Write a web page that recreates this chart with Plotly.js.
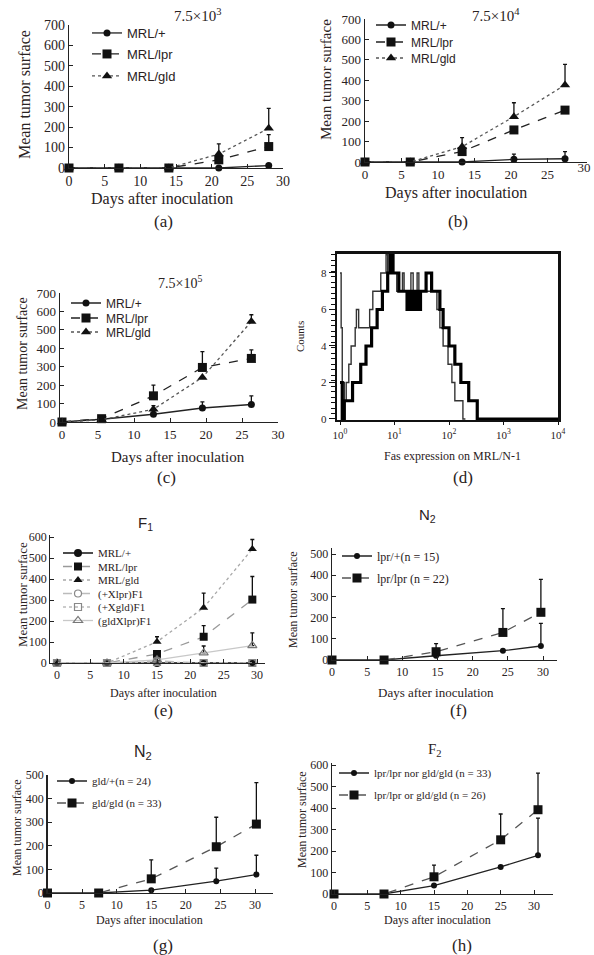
<!DOCTYPE html>
<html><head><meta charset="utf-8">
<script src="https://cdn.plot.ly/plotly-3.0.1.min.js"></script>
<style>html,body{margin:0;padding:0;background:#fff;overflow:hidden}#chart{width:594px;height:955px}</style>
</head><body><div id="chart"></div>
<script>
// ---------------- data ----------------
const dayTicks = [0, 5, 10, 15, 20, 25, 30];
const abcNames = ['MRL/+', 'MRL/lpr', 'MRL/gld'];

// (a) 7.5x10^3
const aDays = [0, 7, 14, 21, 28];
const aMrlPlus = [0, 0, 0, 0, 12];
const aMrlPlusErr = [0, 0, 0, 0, 0];
const aMrlLpr = [0, 0, 0, 40, 105];
const aMrlLprErr = [0, 0, 0, 15, 58];
const aMrlGld = [0, 0, 0, 68, 194];
const aMrlGldErr = [0, 0, 0, 50, 98];

// (b) 7.5x10^4
const bDays = [0, 6.2, 13.3, 20.4, 27.4];
const bMrlPlus = [0, 0, 0, 13, 16];
const bMrlPlusErr = [0, 0, 0, 26, 35];
const bMrlLpr = [0, 0, 51, 157, 254];
const bMrlLprErr = [0, 0, 20, 0, 0];
const bMrlGld = [0, 0, 75, 222, 377];
const bMrlGldErr = [0, 0, 44, 68, 101];

// (c) 7.5x10^5
const cDays = [0, 5.5, 12.7, 19.5, 26.3];
const cMrlPlus = [0, 15, 42, 76, 95];
const cMrlPlusErr = [0, 0, 0, 33, 47];
const cMrlLpr = [0, 18, 142, 296, 345];
const cMrlLprErr = [0, 0, 58, 86, 46];
const cMrlGld = [0, 12, 69, 242, 545];
const cMrlGldErr = [0, 0, 20, 0, 37];

// (d) Fas expression histogram (channel value, counts)
const dThinX = [1.0, 1.05, 1.1, 1.2, 1.3, 1.45, 1.6, 1.75, 1.9, 2.0, 2.2, 2.6, 3.0, 3.5, 4.0, 4.5, 5.0, 5.6, 6.3, 7.0, 7.5, 8.0, 9.0, 10, 11, 12.5, 14, 15, 16, 18, 20, 22, 24, 26, 28, 32, 36, 40, 45, 50, 56, 60, 68, 78, 88, 96, 113, 128, 146, 180, 200];
const dThinCounts = [8, 5, 2, 1, 2, 3, 4, 4, 5, 6, 5, 5, 5, 6, 7, 7, 7, 8, 8, 9, 8, 9, 8, 8, 7, 7, 8, 7, 7, 7, 8, 7, 7, 8, 7, 7, 7, 7, 7, 7, 7, 6, 5, 4, 4, 3, 2, 1, 1, 0, 0];
const dThickX = [1.0, 1.1, 1.2, 1.35, 1.5, 1.7, 1.9, 2.1, 2.4, 2.7, 3.0, 3.4, 3.8, 4.3, 4.8, 5.4, 6.0, 6.7, 7.5, 8.4, 9.4, 10.5, 12, 13, 15, 17, 19, 21, 24, 27, 30, 34, 38, 43, 48, 54, 60, 68, 78, 88, 100, 113, 128, 146, 165, 195, 230, 265, 300, 330, 10000];
const dThickCounts = [2, 0, 1, 1, 1, 2, 2, 2, 3, 3, 4, 4, 5, 5, 6, 6, 7, 7, 8, 9, 8, 8, 7, 7, 7, 6, 7, 6, 7, 6, 7, 7, 8, 8, 7, 7, 7, 6, 5, 5, 4, 4, 3, 3, 2, 2, 1, 1, 1, 0, 0];
const dTickVals = [1, 10, 100, 1000, 10000];
const dTickText = ['10<sup>0</sup>', '10<sup>1</sup>', '10<sup>2</sup>', '10<sup>3</sup>', '10<sup>4</sup>'];

// (e) F1
const eNames = ['MRL/+', 'MRL/lpr', 'MRL/gld', '(+Xlpr)F1', '(+Xgld)F1', '(gldXlpr)F1'];
const eDays = [0, 7.5, 15, 22, 29.3];
const eMrlPlus = [0, 0, 0, 0, 0];
const eMrlLpr = [0, 0, 43, 125, 302];
const eMrlLprErr = [0, 0, 0, 53, 110];
const eMrlGld = [0, 0, 101, 263, 543];
const eMrlGldErr = [0, 0, 24, 70, 45];
const eXlpr = [0, 0, 10, 0, 0];
const eXgld = [0, 0, 5, 0, 0];
const eGldXlpr = [0, 0, 15, 48, 83];
const eGldXlprErr = [0, 0, 0, 33, 60];

// (f) N2 lpr
const fNames = ['lpr/+(n = 15)', 'lpr/lpr (n = 22)'];
const fDays = [0, 7.4, 14.8, 24.3, 29.7];
const fLprPlus = [0, 0, 20, 44, 66];
const fLprPlusErr = [0, 0, 0, 0, 107];
const fLprLpr = [0, 0, 39, 130, 225];
const fLprLprErr = [0, 0, 38, 112, 155];

// (g) N2 gld
const gNames = ['gld/+(n = 24)', 'gld/gld (n = 33)'];
const gDays = [0, 7.4, 15, 24.4, 30.2];
const gGldPlus = [0, 0, 12, 50, 78];
const gGldPlusErr = [0, 0, 5, 55, 82];
const gGldGld = [0, 0, 60, 196, 292];
const gGldGldErr = [0, 0, 80, 125, 176];

// (h) F2
const hNames = ['lpr/lpr nor gld/gld (n = 33)', 'lpr/lpr or gld/gld (n = 26)'];
const hDays = [0, 7.5, 15, 25, 30.6];
const hNor = [0, 0, 39, 126, 180];
const hNorErr = [0, 0, 0, 0, 173];
const hOr = [0, 0, 80, 252, 392];
const hOrErr = [0, 0, 54, 120, 170];

// ---------------- layout helpers ----------------
const W = 594, H = 955;
const SERIF = 'Liberation Serif, Times New Roman, serif';
const SANS = 'Liberation Sans, Arial, sans-serif';
const TXT = '#2a2222';

function span(pA, vA, pB, vB, lo, hi) {
  const k = (pB - pA) / (vB - vA);
  return [pA + (lo - vA) * k, pA + (hi - vA) * k];
}
const layout = {
  width: W, height: H, margin: {l: 0, r: 0, t: 0, b: 0},
  paper_bgcolor: '#fff', plot_bgcolor: 'rgba(0,0,0,0)',
  showlegend: true, annotations: []
};
function addAxes(n, xs, ys, o) {
  const sfx = n === 1 ? '' : String(n);
  const xp = span(...xs);
  const yp = span(...ys);
  const common = {
    showgrid: false, zeroline: false, showline: true,
    linecolor: o.lc || '#222', linewidth: o.lw || 1.3,
    ticks: o.ticks || 'inside', ticklen: 4, tickcolor: o.lc || '#222', tickwidth: 1,
    tickfont: {family: SERIF, size: o.tf, color: TXT}, fixedrange: true
  };
  layout['xaxis' + sfx] = Object.assign({}, common, {
    domain: [xp[0] / W, Math.min(1, xp[1] / W)], range: [xs[4], xs[5]], anchor: 'y' + sfx
  }, o.x || {});
  layout['yaxis' + sfx] = Object.assign({}, common, {
    domain: [1 - yp[0] / H, 1 - yp[1] / H], range: [ys[4], ys[5]], anchor: 'x' + sfx
  }, o.y || {});
}
function ann(text, px, py, size, family, extra) {
  layout.annotations.push(Object.assign({
    text: text, xref: 'paper', yref: 'paper', x: px / W, y: 1 - py / H,
    xanchor: 'center', yanchor: 'middle', showarrow: false,
    font: {family: family || SERIF, size: size, color: TXT}
  }, extra || {}));
}
let legN = 0;
function addLegend(markerX, rowY, size, family) {
  legN += 1;
  const key = legN === 1 ? 'legend' : 'legend' + legN;
  layout[key] = {
    x: (markerX - 20) / W, y: 1 - rowY / H, xanchor: 'left', yanchor: 'middle',
    bgcolor: 'rgba(0,0,0,0)', borderwidth: 0, itemwidth: 30,
    font: {family: family, size: size, color: TXT}
  };
  return key;
}
const traces = [];
function series(n, x, y, err, name, st, leg) {
  const sfx = n === 1 ? '' : String(n);
  const t = {
    type: 'scatter', mode: 'lines+markers', x: x, y: y, name: name,
    xaxis: 'x' + sfx, yaxis: 'y' + sfx, cliponaxis: false,
    line: {color: st.lc || '#222', width: st.lw || 1.3, dash: st.dash || 'solid'},
    marker: {symbol: st.sym, size: st.ms || 7, color: st.mc || '#111',
             line: {color: st.mlc || '#111', width: st.mlw || 0}},
    showlegend: !!leg
  };
  if (leg) t.legend = leg;
  if (err) t.error_y = {type: 'data', symmetric: false, array: err,
                        arrayminus: err.map(() => 0), color: '#111', thickness: 1.3, width: 2};
  traces.push(t);
}

// ---------------- panel (a) ----------------
addAxes(1, [69, 0, 283, 30, 0, 30], [168, 0, 25, 700, 0, 700], {tf: 14,
  x: {tickvals: dayTicks}, y: {dtick: 100}});
{
  const L = [addLegend(107, 33, 13, SANS), addLegend(107, 54, 13, SANS), addLegend(107, 76, 13, SANS)];
  series(1, aDays, aMrlPlus, aMrlPlusErr, abcNames[0], {sym: 'circle', ms: 7}, L[0]);
  series(1, aDays, aMrlLpr, aMrlLprErr, abcNames[1], {sym: 'square', ms: 9, dash: 'dash'}, L[1]);
  series(1, aDays, aMrlGld, aMrlGldErr, abcNames[2], {sym: 'triangle-up', ms: 9, dash: 'dot', lc: '#555'}, L[2]);
}
ann('7.5×10<sup>3</sup>', 197, 15, 15);
ann('Days after inoculation', 162, 199, 16);
ann('Mean tumor surface', 25, 95, 16, SERIF, {textangle: -90});
ann('(a)', 163, 221, 17);

// ---------------- panel (b) ----------------
addAxes(2, [365, 0, 584, 30, 0, 30.4], [162, 0, 19, 700, 0, 700], {tf: 13,
  x: {tickvals: dayTicks.slice(0, -1)}, y: {dtick: 100}});
{
  const L = [addLegend(391, 25, 12, SANS), addLegend(391, 42, 12, SANS), addLegend(391, 58, 12, SANS)];
  series(2, bDays, bMrlPlus, bMrlPlusErr, abcNames[0], {sym: 'circle', ms: 7}, L[0]);
  series(2, bDays, bMrlLpr, bMrlLprErr, abcNames[1], {sym: 'square', ms: 9, dash: 'dash'}, L[1]);
  series(2, bDays, bMrlGld, bMrlGldErr, abcNames[2], {sym: 'triangle-up', ms: 9, dash: 'dot', lc: '#555'}, L[2]);
}
// last tick label of panel (b), drawn through the x2/y2 scales
traces.push({type: 'scatter', mode: 'text', x: [dayTicks[dayTicks.length - 1]], y: [0],
  text: [String(dayTicks[dayTicks.length - 1])], textposition: 'bottom center',
  textfont: {family: SERIF, size: 13, color: TXT}, xaxis: 'x2', yaxis: 'y2',
  cliponaxis: false, showlegend: false, hoverinfo: 'skip', name: 'tick30'});
ann('7.5×10<sup>4</sup>', 496, 15, 15);
ann('Days after inoculation', 456, 193, 16);
ann('Mean tumor surface', 326, 80, 15, SERIF, {textangle: -90});
ann('(b)', 458, 221, 17);

// ---------------- panel (c) ----------------
addAxes(3, [62, 0, 278, 30, -0.3, 30], [422, 0, 293, 700, 0, 700], {tf: 13,
  x: {tickvals: dayTicks}, y: {dtick: 100}});
{
  const L = [addLegend(86, 303, 12, SANS), addLegend(86, 318, 12, SANS), addLegend(86, 332, 12, SANS)];
  series(3, cDays, cMrlPlus, cMrlPlusErr, abcNames[0], {sym: 'circle', ms: 7}, L[0]);
  series(3, cDays, cMrlLpr, cMrlLprErr, abcNames[1], {sym: 'square', ms: 9, dash: 'dash'}, L[1]);
  series(3, cDays, cMrlGld, cMrlGldErr, abcNames[2], {sym: 'triangle-up', ms: 9, dash: 'dot', lc: '#555'}, L[2]);
}
ann('7.5×10<sup>5</sup>', 180, 282, 14);
ann('Days after inoculation', 178, 457, 15);
ann('Mean tumor surface', 23, 354, 14, SERIF, {textangle: -90});
ann('(c)', 166, 477, 17);

// ---------------- panel (d) ----------------
addAxes(4, [340, 0, 558, 4, -0.05, 4], [419, 0, 273, 8, -0.05, 9.05], {tf: 11, lw: 2.5, lc: '#111', ticks: 'outside',
  x: {type: 'log', tickvals: dTickVals, ticktext: dTickText, mirror: true, ticklen: 3},
  y: {tickmode: 'linear', tick0: 0, dtick: 2, mirror: true, ticklen: 6,
      minor: {ticks: 'outside', ticklen: 4, tickmode: 'linear', tick0: 0, dtick: 0.3, tickwidth: 1, tickcolor: '#111', showgrid: false}}});
traces.push({type: 'scatter', mode: 'lines', x: dThinX, y: dThinCounts, xaxis: 'x4', yaxis: 'y4',
  line: {shape: 'hv', color: '#333', width: 1.4}, showlegend: false, name: 'thin'});
traces.push({type: 'scatter', mode: 'lines', x: dThickX, y: dThickCounts, xaxis: 'x4', yaxis: 'y4',
  line: {shape: 'hv', color: '#000', width: 3.2}, showlegend: false, name: 'thick'});
ann('Fas expression on MRL/N-1', 452, 456, 12);
ann('Counts', 300, 337, 11, SERIF, {textangle: -90});
ann('(d)', 463, 477, 17);

// ---------------- panel (e) ----------------
addAxes(5, [57, 0, 257, 30, -1, 31.2], [663, 0, 537, 600, 0, 610], {tf: 12,
  x: {tickvals: dayTicks}, y: {dtick: 100}});
{
  const rows = [553, 566.5, 580, 593.5, 607, 620.5];
  const L = rows.map(r => addLegend(78, r, 11, SERIF));
  series(5, eDays, eMrlPlus, null, eNames[0], {sym: 'circle', ms: 8, lc: '#111', lw: 1.3}, L[0]);
  series(5, eDays, eMrlLpr, eMrlLprErr, eNames[1], {sym: 'square', ms: 8, dash: 'dash', lc: '#9a9a9a'}, L[1]);
  series(5, eDays, eMrlGld, eMrlGldErr, eNames[2], {sym: 'triangle-up', ms: 8, dash: 'dot', lc: '#a8a8a8'}, L[2]);
  series(5, eDays, eXlpr, null, eNames[3], {sym: 'circle-open', ms: 7, dash: 'dash', lc: '#bbb', mc: '#888', mlc: '#888', mlw: 1.2}, L[3]);
  series(5, eDays, eXgld, null, eNames[4], {sym: 'square-open', ms: 7, dash: 'dot', lc: '#bbb', mc: '#888', mlc: '#888', mlw: 1.2}, L[4]);
  series(5, eDays, eGldXlpr, eGldXlprErr, eNames[5], {sym: 'triangle-up-open', ms: 8, lc: '#c8c8c8', mc: '#777', mlc: '#777', mlw: 1.2}, L[5]);
}
ann('F<sub>1</sub>', 145, 523, 15, SANS);
ann('Days after inoculation', 163, 693, 12);
ann('Mean tumor surface', 22, 595, 13, SERIF, {textangle: -90});
ann('(e)', 163, 710, 17);

// ---------------- panel (f) ----------------
addAxes(6, [332, 0, 543, 30, 0, 32], [660, 0, 554, 500, 0, 530], {tf: 12,
  x: {tickvals: dayTicks}, y: {dtick: 100}});
{
  const L = [addLegend(357, 556, 12, SERIF), addLegend(357, 578, 12, SERIF)];
  series(6, fDays, fLprPlus, fLprPlusErr, fNames[0], {sym: 'circle', ms: 6, lc: '#222'}, L[0]);
  series(6, fDays, fLprLpr, fLprLprErr, fNames[1], {sym: 'square', ms: 9, dash: 'dash', lc: '#555'}, L[1]);
}
ann('N<sub>2</sub>', 427, 515, 15, SANS);
ann('Days after inoculation', 436, 692, 13);
ann('Mean tumor surface', 293, 600, 12, SERIF, {textangle: -90});
ann('(f)', 458, 710, 17);

// ---------------- panel (g) ----------------
addAxes(7, [47.5, 0, 255, 30, 0, 32.6], [893, 0, 775, 500, 0, 500], {tf: 12,
  x: {tickvals: dayTicks}, y: {dtick: 100}});
{
  const L = [addLegend(72, 781, 11, SERIF), addLegend(72, 803, 11, SERIF)];
  series(7, gDays, gGldPlus, gGldPlusErr, gNames[0], {sym: 'circle', ms: 6, lc: '#222'}, L[0]);
  series(7, gDays, gGldGld, gGldGldErr, gNames[1], {sym: 'square', ms: 9, dash: 'dash', lc: '#555'}, L[1]);
}
ann('N<sub>2</sub>', 143, 752, 16, SANS);
ann('Days after inoculation', 149, 920, 12);
ann('Mean tumor surface', 17, 828, 12, SERIF, {textangle: -90});
ann('(g)', 163, 945, 17);

// ---------------- panel (h) ----------------
addAxes(8, [334, 0, 534, 30, -0.3, 32.8], [894, 0, 765, 600, 0, 610], {tf: 12,
  x: {tickvals: dayTicks}, y: {dtick: 100}});
{
  const L = [addLegend(354, 773, 11, SERIF), addLegend(354, 795, 11, SERIF)];
  series(8, hDays, hNor, hNorErr, hNames[0], {sym: 'circle', ms: 6, lc: '#222'}, L[0]);
  series(8, hDays, hOr, hOrErr, hNames[1], {sym: 'square', ms: 9, dash: 'dash', lc: '#555'}, L[1]);
}
ann('F<sub>2</sub>', 435, 750, 15);
ann('Days after inoculation', 437, 920, 12);
ann('Mean tumor surface', 302, 820, 12, SERIF, {textangle: -90});
ann('(h)', 462, 945, 17);

Plotly.newPlot('chart', traces, layout, {staticPlot: true, displayModeBar: false});
</script>
</body></html>
